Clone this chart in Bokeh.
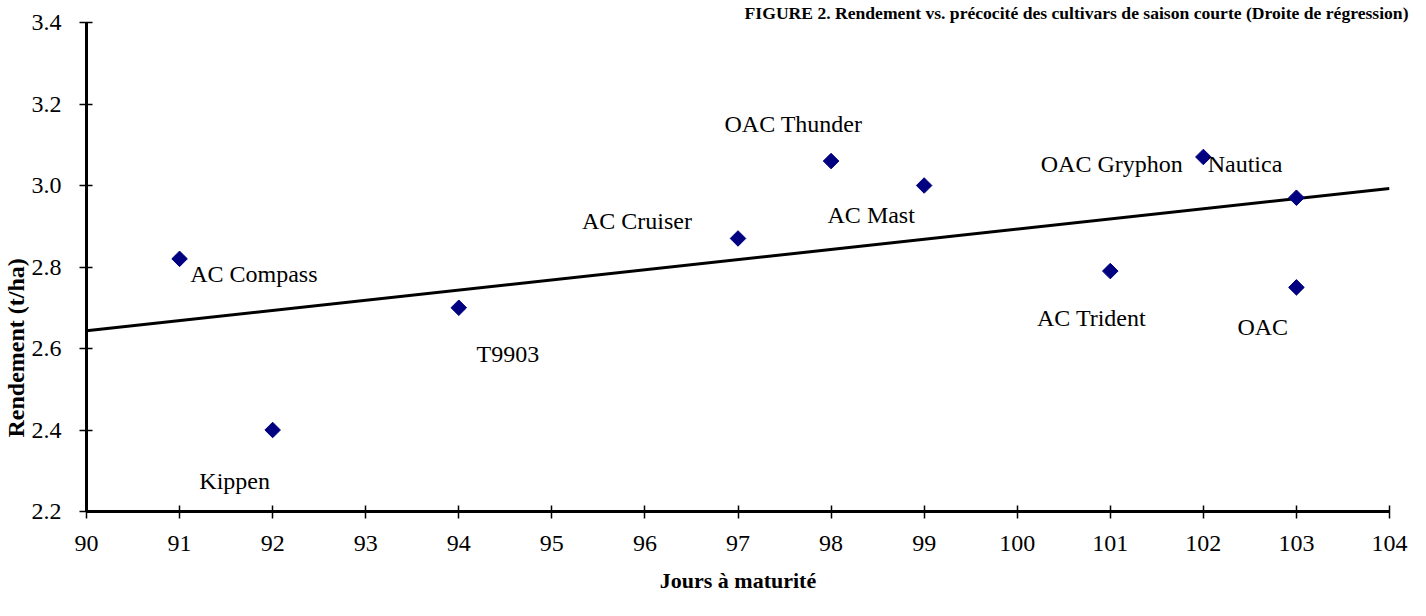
import numpy as np
from bokeh.plotting import figure
from bokeh.models import Range1d, FixedTicker, PrintfTickFormatter, ColumnDataSource, Title
from bokeh.core.properties import value
from bokeh.embed import file_html
from bokeh.resources import INLINE

# ---- data ----
cultivars = ["AC Compass", "Kippen", "T9903", "AC Cruiser", "OAC Thunder",
             "AC Mast", "AC Trident", "Nautica", "OAC Gryphon", "OAC"]
jours = [91, 92, 94, 97, 98, 99, 101, 102, 103, 103]
rendement = [2.82, 2.40, 2.70, 2.87, 3.06, 3.00, 2.79, 3.07, 2.97, 2.75]
x_ticks = list(range(90, 105))
y_ticks = [2.2, 2.4, 2.6, 2.8, 3.0, 3.2, 3.4]

title_text = "FIGURE 2. Rendement vs. précocité des cultivars de saison courte (Droite de régression)"
x_title = "Jours à maturité"
y_title = "Rendement (t/ha)"

# label placement (pixels, relative to the point: right / down to baseline)
label_dx = [10.6, -73.3, 17.7, -156.0, -106.6, -96.6, -73.3, 4.3, -255.7, -59.0]
label_dy = [15.6, 50.7, 46.7, -17.4, -36.7, 29.0, 46.7, 6.7, -33.3, 40.0]

SERIF = "Liberation Serif, Times New Roman, serif"
NAVY = "#000080"

# regression line from the data
slope, intercept = np.polyfit(jours, rendement, 1)
reg_x = [x_ticks[0], x_ticks[-1]]
reg_y = [slope * v + intercept for v in reg_x]

p = figure(width=1410, height=600,
           x_range=Range1d(90, 104), y_range=Range1d(2.2, 3.4),
           output_backend="svg", toolbar_location=None,
           min_border_left=83, min_border_right=21,
           min_border_top=19, min_border_bottom=89)
p.outline_line_color = None
p.xgrid.visible = False
p.ygrid.visible = False
p.background_fill_color = "white"
p.border_fill_color = "white"

# top title (right aligned, reaching past the frame's right edge)
p.title.text = title_text
p.title.align = "right"
p.title.offset = -19
p.title.standoff = 0
p.title.text_font = SERIF
p.title.text_font_size = "17.6px"
p.title.text_font_style = "bold"
p.title.text_color = "black"

for ax in (p.xaxis, p.yaxis):
    ax.axis_line_width = 3
    ax.axis_line_color = "black"
    ax.major_tick_line_width = 1.5
    ax.major_tick_line_color = "black"
    ax.major_tick_in = 6
    ax.major_tick_out = 7
    ax.minor_tick_line_color = None
    ax.major_label_text_font = SERIF
    ax.major_label_text_font_size = "24px"
    ax.major_label_text_color = "black"

p.xaxis.ticker = FixedTicker(ticks=x_ticks)
p.yaxis.ticker = FixedTicker(ticks=y_ticks)
p.yaxis.formatter = PrintfTickFormatter(format="%.1f")
p.xaxis.major_label_standoff = 17
p.yaxis.major_label_standoff = 18

p.xaxis.axis_label = x_title
p.xaxis.axis_label_standoff = 14
p.xaxis.axis_label_text_font = SERIF
p.xaxis.axis_label_text_font_size = "22px"
p.xaxis.axis_label_text_font_style = "bold"
p.xaxis.axis_label_text_color = "black"

# y title, starting above the frame bottom like the reference
p.add_layout(Title(text=y_title, align="left", offset=74, standoff=0,
                   text_font=SERIF, text_font_size="24px",
                   text_font_style="bold", text_color="black"), "left")

# regression line
p.line(reg_x, reg_y, line_color="black", line_width=3)

# points
src = ColumnDataSource(dict(x=jours, y=rendement, name=cultivars,
                            dx=label_dx, dy=label_dy))
p.scatter("x", "y", source=src, marker="square", angle=np.pi / 4,
          size=11, fill_color=NAVY, line_color=NAVY)

p.text("x", "y", text="name", source=src, x_offset="dx", y_offset="dy",
       text_font=value(SERIF), text_font_size="24px", text_color="black",
       text_align="left", text_baseline="alphabetic")

open("out.html", "w").write(file_html(p, INLINE))
